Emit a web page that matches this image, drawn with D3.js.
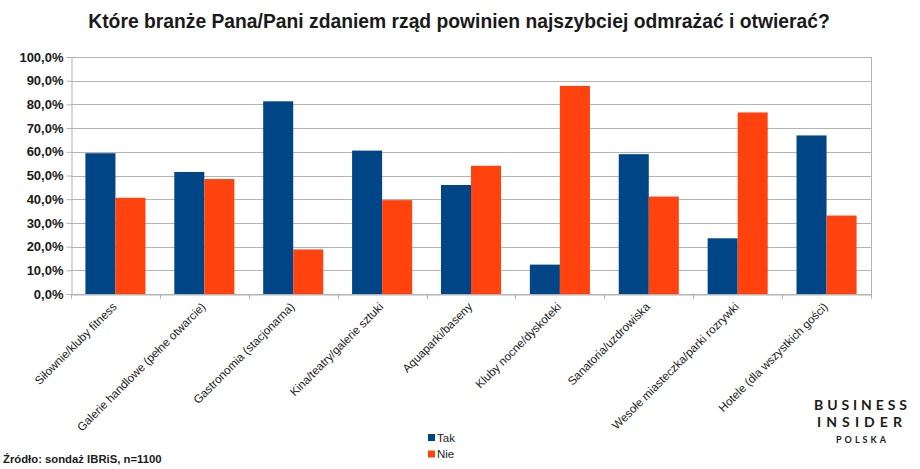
<!DOCTYPE html>
<html>
<head>
<meta charset="utf-8">
<script src="https://cdn.jsdelivr.net/npm/d3@7"></script>
<style>
  html, body { margin: 0; padding: 0; background: #fff; }
  svg { display: block; }
</style>
</head>
<body>
<svg id="chart" width="920" height="469"></svg>
<script>
const categories = [
  "Siłownie/kluby fitness",
  "Galerie handlowe (pełne otwarcie)",
  "Gastronomia (stacjonarna)",
  "Kina/teatry/galerie sztuki",
  "Aquaparki/baseny",
  "Kluby nocne/dyskoteki",
  "Sanatoria/uzdrowiska",
  "Wesołe miasteczka/parki rozrywki",
  "Hotele (dla wszystkich gości)"
];
const seriesNames = ["Tak", "Nie"];
const takValues = [0.594, 0.515, 0.813, 0.605, 0.460, 0.124, 0.590, 0.235, 0.669];
const nieValues = [0.406, 0.485, 0.188, 0.396, 0.541, 0.878, 0.411, 0.766, 0.331];
const yTicks = [0, 0.1, 0.2, 0.3, 0.4, 0.5, 0.6, 0.7, 0.8, 0.9, 1.0];
const colors = { "Tak": "#004586", "Nie": "#ff420e" };
const titleText = "Które branże Pana/Pani zdaniem rząd powinien najszybciej odmrażać i otwierać?";
const sourceText = "Źródło: sondaż IBRiS, n=1100";

(function () {
const svg = d3.select("#chart");
const pLeft = 71, pRight = 871, pTop = 57, pBottom = 294;
const FONT = "'Liberation Sans', Arial, sans-serif";

const x0 = d3.scaleBand().domain(categories).range([pLeft, pRight]).padding(0);
const x1 = d3.scaleBand().domain(seriesNames).range([0, x0.bandwidth()]).paddingInner(0).paddingOuter(0.48);
const y = d3.scaleLinear().domain([0, 1]).range([pBottom, pTop]);

const locale = d3.formatLocale({ decimal: ",", thousands: " ", grouping: [3], currency: ["", " zł"] });
const fmt = locale.format(".1%");

// gridlines
svg.append("g")
  .selectAll("line").data(yTicks).join("line")
  .attr("x1", pLeft).attr("x2", pRight)
  .attr("y1", d => Math.round(y(d)) + 0.5).attr("y2", d => Math.round(y(d)) + 0.5)
  .attr("stroke", "#b3b3b3").attr("stroke-width", 1);

// right border
svg.append("line")
  .attr("x1", pRight + 0.5).attr("x2", pRight + 0.5)
  .attr("y1", Math.round(y(1))).attr("y2", pBottom)
  .attr("stroke", "#b3b3b3");

// bars
const data = categories.map((c, i) => ({ c, vals: [
  { s: "Tak", v: takValues[i] }, { s: "Nie", v: nieValues[i] } ] }));

svg.append("g").selectAll("g").data(data).join("g")
  .attr("transform", d => `translate(${x0(d.c)},0)`)
  .selectAll("rect").data(d => d.vals).join("rect")
  .attr("x", d => x1(d.s))
  .attr("width", x1.bandwidth())
  .attr("y", d => y(d.v))
  .attr("height", d => y(0) - y(d.v))
  .attr("fill", d => colors[d.s]);

// y axis
const yAxis = d3.axisLeft(y).tickValues(yTicks).tickFormat(fmt).tickSize(5).tickPadding(3);
const gy = svg.append("g").attr("transform", `translate(${pLeft + 0.5},0)`).call(yAxis);
gy.select(".domain").attr("stroke", "#b3b3b3");
gy.selectAll(".tick line").attr("stroke", "#b3b3b3");
gy.selectAll(".tick text")
  .attr("font-family", FONT).attr("font-size", 13).attr("font-weight", "bold").attr("fill", "#1a1a1a");

// x axis
const xAxis = d3.axisBottom(x0).tickSize(0).tickFormat(d => d);
const gx = svg.append("g").attr("transform", `translate(0,${pBottom + 0.5})`).call(xAxis);
gx.select(".domain").attr("stroke", "#b3b3b3");
gx.selectAll(".tick text")
  .attr("font-family", FONT).attr("font-size", 11.6).attr("fill", "#1a1a1a")
  .attr("text-anchor", "end")
  .attr("dy", null).attr("y", 0)
  .attr("transform", "translate(2,13) rotate(-45)");

// x boundary tick marks
const boundaries = categories.map(c => x0(c)).concat([pRight]);
svg.append("g").selectAll("line").data(boundaries).join("line")
  .attr("x1", d => Math.round(d) + 0.5).attr("x2", d => Math.round(d) + 0.5)
  .attr("y1", pBottom).attr("y2", pBottom + 5)
  .attr("stroke", "#b3b3b3");

// title
svg.append("text")
  .attr("x", 459).attr("y", 28)
  .attr("text-anchor", "middle")
  .attr("font-family", FONT).attr("font-size", 19.3).attr("font-weight", "bold")
  .attr("fill", "#1a1a1a")
  .text(titleText);

// legend
const lg = svg.append("g").attr("transform", "translate(428,434)");
seriesNames.forEach((s, i) => {
  lg.append("rect").attr("x", 0).attr("y", i * 16.5).attr("width", 7).attr("height", 7).attr("fill", colors[s]);
  lg.append("text").attr("x", 9).attr("y", i * 16.5 + 7.5)
    .attr("font-family", FONT).attr("font-size", 11.5).attr("fill", "#1a1a1a").text(s);
});

// source
svg.append("text")
  .attr("x", 3).attr("y", 463)
  .attr("font-family", FONT).attr("font-size", 11.3).attr("font-weight", "bold")
  .attr("fill", "#1a1a1a")
  .text(sourceText);

// logo
const logo = svg.append("g").attr("font-family", "Lato, 'Open Sans', sans-serif").attr("fill", "#1a1a1a");
logo.append("text").attr("x", 814).attr("y", 410)
  .attr("font-size", 14).attr("font-weight", "bold")
  .attr("textLength", 93).attr("lengthAdjust", "spacing").text("BUSINESS");
logo.append("text").attr("x", 817).attr("y", 427)
  .attr("font-size", 14).attr("font-weight", "bold")
  .attr("textLength", 85).attr("lengthAdjust", "spacing").text("INSIDER");
logo.append("text").attr("x", 836).attr("y", 443)
  .attr("font-size", 9).attr("font-weight", "bold")
  .attr("textLength", 50).attr("lengthAdjust", "spacing").text("POLSKA");
})();
</script>
</body>
</html>
